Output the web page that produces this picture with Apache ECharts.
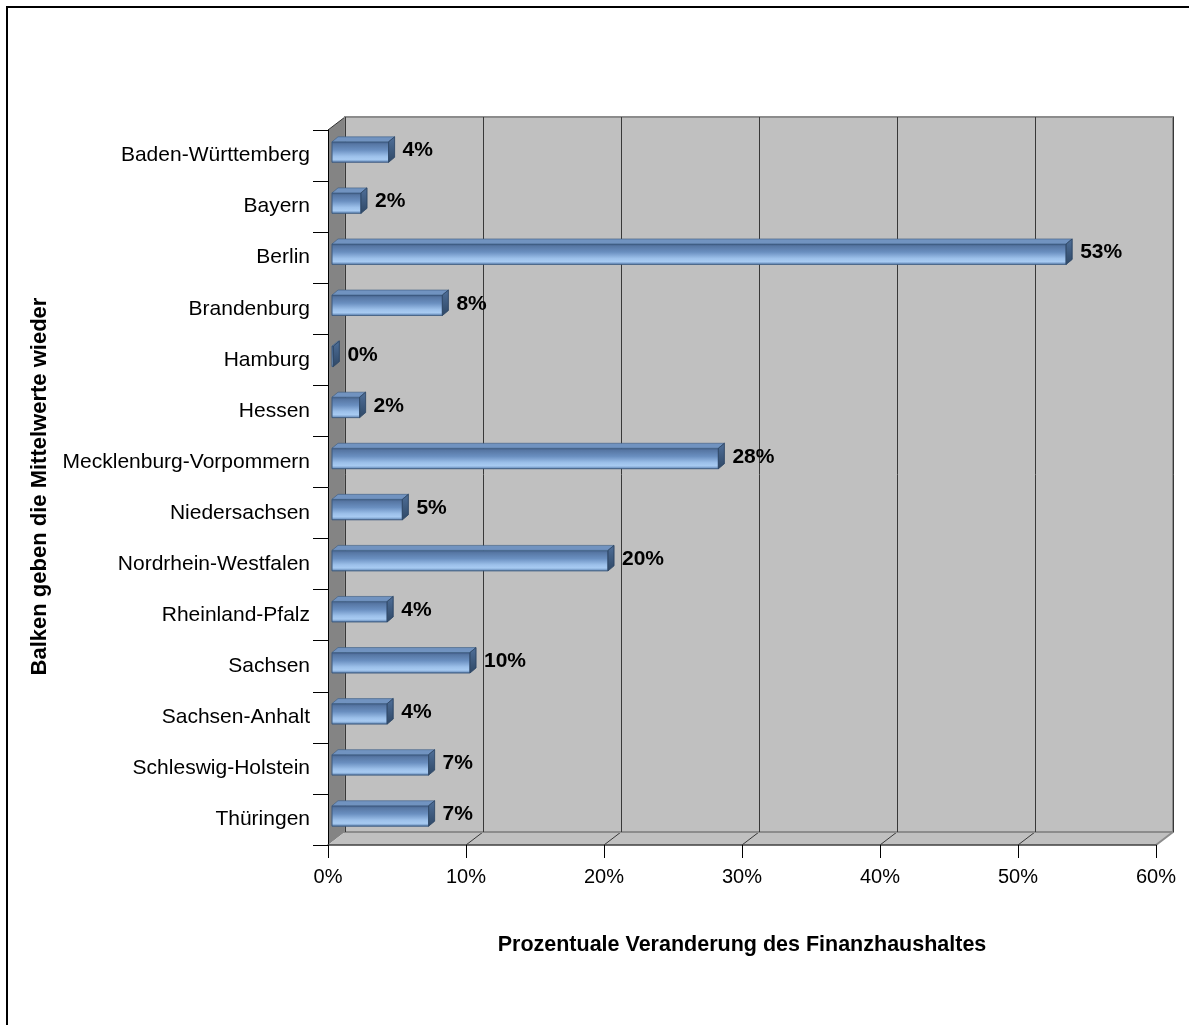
<!DOCTYPE html>
<html>
<head>
<meta charset="utf-8">
<script src="https://cdn.jsdelivr.net/npm/echarts@6/dist/echarts.min.js"></script>
<style>
  html, body { margin: 0; padding: 0; background: #fff; }
  #chart { width: 1189px; height: 1025px; }
</style>
</head>
<body>
<div id="chart"></div>
<script>
// ---- data ----
const categories = ['Baden-Württemberg', 'Bayern', 'Berlin', 'Brandenburg', 'Hamburg', 'Hessen',
  'Mecklenburg-Vorpommern', 'Niedersachsen', 'Nordrhein-Westfalen', 'Rheinland-Pfalz', 'Sachsen',
  'Sachsen-Anhalt', 'Schleswig-Holstein', 'Thüringen'];
const values = [4.1, 2.1, 53.2, 8.0, 0.1, 2.0, 28.0, 5.1, 20.0, 4.0, 10.0, 4.0, 7.0, 7.0];
const xTicks = [0, 10, 20, 30, 40, 50, 60];
const xTitle = 'Prozentuale Veranderung des Finanzhaushaltes';
const yTitle = 'Balken geben die Mittelwerte wieder';

// ---- layout ----
const FRONT = { left: 328, top: 130, width: 828, height: 715 };
const DX = 17, DY = 13;          // depth of the 3D box
const BAR_OX = 4, BAR_OY = -3.5; // bar position inside the depth
const SDX = 6, SDY = 5;          // bar's own depth
const FONT = 'Liberation Sans, Arial, sans-serif';

const chart = echarts.init(document.getElementById('chart'), null, { renderer: 'canvas' });

const option = {
  backgroundColor: '#ffffff',
  animation: false,
  grid: [
    { left: FRONT.left, top: FRONT.top, width: FRONT.width, height: FRONT.height },
    { left: FRONT.left + DX, top: FRONT.top - DY, width: FRONT.width, height: FRONT.height,
      show: true, backgroundColor: '#c0c0c0', borderColor: '#8c8c8c', borderWidth: 2 }
  ],
  xAxis: [
    {
      gridIndex: 0, type: 'value', min: xTicks[0], max: xTicks[xTicks.length - 1], interval: 10,
      axisLine: { show: true, lineStyle: { color: '#404040', width: 1.5 } },
      axisTick: { show: true, length: 13, lineStyle: { color: '#000' } },
      axisLabel: { formatter: '{value}%', fontSize: 20, color: '#000', fontFamily: FONT, margin: 22 },
      splitLine: { show: false },
      name: xTitle, nameLocation: 'middle', nameGap: 89,
      nameTextStyle: { fontSize: 21.5, fontWeight: 'bold', color: '#000', fontFamily: FONT }
    },
    {
      gridIndex: 1, type: 'value', min: xTicks[0], max: xTicks[xTicks.length - 1], interval: 10,
      axisLine: { show: false }, axisTick: { show: false }, axisLabel: { show: false },
      splitLine: { show: true, lineStyle: { color: '#383838', width: 1 } }
    }
  ],
  yAxis: [
    {
      gridIndex: 0, type: 'category', inverse: true, data: categories,
      axisLine: { show: true, lineStyle: { color: '#000', width: 1 } },
      axisTick: { show: true, length: 15, lineStyle: { color: '#000' } },
      axisLabel: { fontSize: 21, color: '#000', fontFamily: FONT, margin: 18 }
    },
    { gridIndex: 1, type: 'category', inverse: true, data: categories, show: false }
  ],
  series: [{
    type: 'custom',
    xAxisIndex: 0, yAxisIndex: 0,
    data: values.map((v, i) => [v, i]),
    encode: { x: 0, y: 1 },
    clip: false,
    renderItem: function (params, api) {
      const v = api.value(0), idx = api.value(1);
      const p0 = api.coord([0, idx]);
      const p1 = api.coord([v, idx]);
      const band = api.size([0, 1])[1];
      const h = band * 0.4;
      const xL = p0[0] + BAR_OX, xR = p1[0] + BAR_OX;
      const yC = p0[1] + BAR_OY;
      const yT = yC - h / 2, yB = yC + h / 2;
      const frontFill = new echarts.graphic.LinearGradient(0, 0, 0, 1, [
        { offset: 0, color: '#3f5b82' },
        { offset: 0.12, color: '#5777a4' },
        { offset: 0.4, color: '#6a8fc0' },
        { offset: 0.7, color: '#9cc0ea' },
        { offset: 0.85, color: '#a8cbf2' },
        { offset: 1, color: '#5a7fae' }
      ]);
      const sideFill = new echarts.graphic.LinearGradient(0, 0, 0, 1, [
        { offset: 0, color: '#4f6f99' },
        { offset: 1, color: '#2f4866' }
      ]);
      return {
        type: 'group',
        children: [
          { type: 'rect', shape: { x: xL, y: yT, width: Math.max(xR - xL, 0), height: h },
            style: { fill: frontFill, stroke: '#3d5a80', lineWidth: 0.6 } },
          { type: 'polygon', shape: { points: [[xL, yT], [xL + SDX, yT - SDY], [xR + SDX, yT - SDY], [xR, yT]] },
            style: { fill: '#7193c0', stroke: '#3d5a80', lineWidth: 0.6 } },
          { type: 'polygon', shape: { points: [[xR, yT], [xR + SDX, yT - SDY], [xR + SDX, yB - SDY], [xR, yB]] },
            style: { fill: sideFill, stroke: '#2f4866', lineWidth: 0.6 } },
          { type: 'text', style: { x: xR + SDX + 8, y: yC - 1.5, text: Math.round(v) + '%',
              font: 'bold 21px ' + FONT, fill: '#000', verticalAlign: 'middle', align: 'left' } }
        ]
      };
    }
  }]
};
chart.setOption(option);

// ---- 3D box decoration (side wall, floor) from the axes' scales ----
const xf = v => chart.convertToPixel({ xAxisIndex: 0 }, v);
const xb = v => chart.convertToPixel({ xAxisIndex: 1 }, v);
const yTopF = FRONT.top, yBotF = FRONT.top + FRONT.height;
const yTopB = yTopF - DY, yBotB = yBotF - DY;
const x0 = xf(xTicks[0]), x0b = xb(xTicks[0]);
const xN = xf(xTicks[xTicks.length - 1]), xNb = xb(xTicks[xTicks.length - 1]);
const graphics = [
  { type: 'rect', z: 100, silent: true, shape: { x: 7, y: 7, width: 1400, height: 1300 },
    style: { fill: null, stroke: '#000', lineWidth: 2 } },
  { type: 'polygon', z: -1, shape: { points: [[x0, yTopF], [x0b, yTopB], [x0b, yBotB], [x0, yBotF]] },
    style: { fill: '#848484' } },
  { type: 'polygon', z: -1, shape: { points: [[x0, yBotF], [x0b, yBotB], [xNb, yBotB], [xN, yBotF]] },
    style: { fill: '#c0c0c0' } },
  { type: 'line', z: -1, shape: { x1: xN, y1: yBotF, x2: xNb, y2: yBotB },
    style: { stroke: '#8c8c8c', lineWidth: 2 } },
  { type: 'line', z: -1, shape: { x1: x0, y1: yTopF, x2: x0b, y2: yTopB },
    style: { stroke: '#333', lineWidth: 1 } },
  { type: 'text', z: 10, x: 40, y: (yTopF + yBotF) / 2 - 1, rotation: Math.PI / 2,
    style: { text: yTitle, font: 'bold 22px ' + FONT, fill: '#000', align: 'center', verticalAlign: 'middle' } }
];
xTicks.slice(1, -1).forEach(t => {
  graphics.push({ type: 'line', z: -1, shape: { x1: xf(t), y1: yBotF, x2: xb(t), y2: yBotB },
    style: { stroke: '#383838', lineWidth: 1 } });
});
chart.setOption({ graphic: graphics });
</script>
</body>
</html>
